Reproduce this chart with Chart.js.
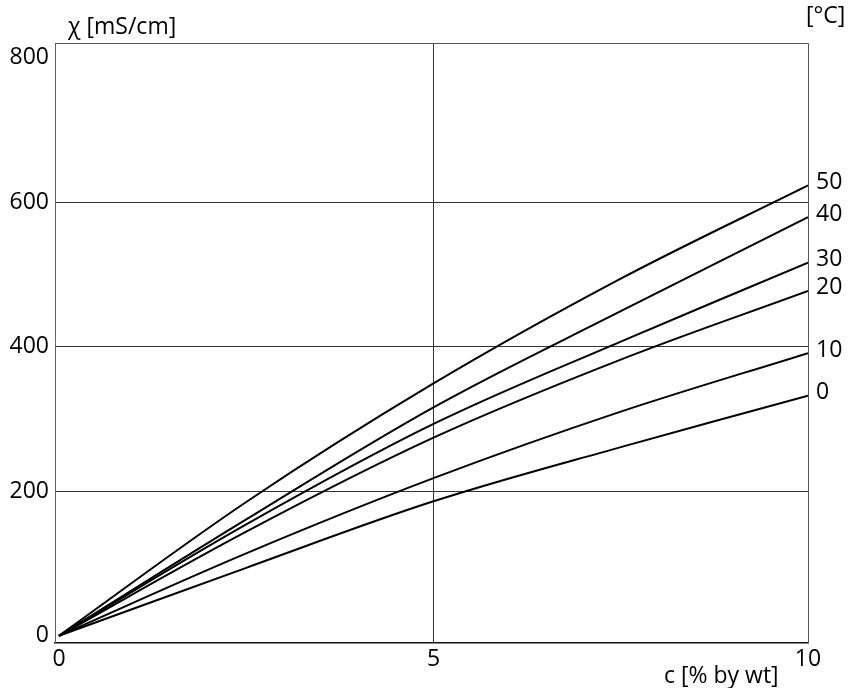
<!DOCTYPE html>
<html>
<head>
<meta charset="utf-8">
<script src="https://cdn.jsdelivr.net/npm/chart.js@4.4.1/dist/chart.umd.min.js"></script>
<style>
  body { margin: 0; background: #fff; }
  canvas { display: block; }
</style>
</head>
<body>
<canvas id="grafico" width="849" height="688"></canvas>
<script>
// concentración en % por peso (eje x)
const concentracion = [0, 2.5, 5, 7.5, 10];
// etiquetas de temperatura [°C] para cada curva
const temperaturas = ['0', '10', '20', '30', '40', '50'];
// conductividad en mS/cm para cada temperatura
const t0 = [0, 94, 186, 261, 332];
const t10 = [0, 114, 218, 310, 391];
const t20 = [0, 144, 274, 382, 477];
const t30 = [0, 154, 293, 407, 516];
const t40 = [0, 161, 316, 449, 579];
const t50 = [0, 185, 349, 494, 623];
const series = [t0, t10, t20, t30, t40, t50];
// marcas de los ejes
const ticksX = [0, 5, 10];
const ticksY = [0, 200, 400, 600, 800];
const lineasX = [5];
const lineasY = [200, 400, 600];

const fuente = '"Open Sans", "Noto Sans", sans-serif';

const textos = {
    id: 'textos',
    afterDraw(chart) {
        const ctx = chart.ctx;
        const area = chart.chartArea;
        ctx.save();
        // marco superior y derecho
        ctx.strokeStyle = '#555';
        ctx.lineWidth = 1;
        ctx.beginPath();
        ctx.moveTo(area.left, area.top + 0.5);
        ctx.lineTo(area.right + 0.5, area.top + 0.5);
        ctx.lineTo(area.right + 0.5, area.bottom);
        ctx.stroke();

        ctx.fillStyle = '#000';
        ctx.font = '23px ' + fuente;
        ctx.textBaseline = 'middle';
        ctx.textAlign = 'left';
        ctx.fillText('χ [mS/cm]', 68, 27);
        ctx.fillText('[°C]', 806, 16);
        ctx.fillText('c [% by wt]', 664, 676);

        // etiquetas al final de cada curva
        series.forEach(function(s, i) {
            const meta = chart.getDatasetMeta(i);
            const ultimo = meta.data[meta.data.length - 1];
            ctx.fillText(temperaturas[i], area.right + 8, ultimo.y - 3);
        });
        ctx.restore();
    }
};

new Chart(document.getElementById('grafico'), {
    type: 'line',
    data: {
        datasets: series.map(function(s, i) {
            return {
                label: temperaturas[i],
                data: concentracion.map((c, j) => ({ x: c, y: s[j] })),
                borderColor: '#000',
                borderWidth: 2,
                pointRadius: 0,
                fill: false,
                tension: 0.35
            };
        })
    },
    options: {
        responsive: false,
        animation: false,
        layout: { padding: { top: 43, right: 41, left: 0, bottom: 0 } },
        plugins: { legend: { display: false }, tooltip: { enabled: false } },
        scales: {
            x: {
                type: 'linear',
                min: -0.053,
                max: 10,
                afterBuildTicks: s => { s.ticks = ticksX.map(v => ({ value: v })); },
                afterFit: s => { s.height = 45; },
                grid: {
                    drawTicks: false,
                    color: c => (c.tick && lineasX.includes(c.tick.value)) ? '#333' : 'rgba(0,0,0,0)'
                },
                border: { color: '#111', width: 1.5 },
                ticks: {
                    color: '#000',
                    font: { family: fuente, size: 23 },
                    padding: 3,
                    maxRotation: 0,
                    autoSkip: false
                }
            },
            y: {
                min: -10,
                max: 820,
                afterBuildTicks: s => { s.ticks = ticksY.map(v => ({ value: v })); },
                afterFit: s => { s.width = 55; },
                grid: {
                    drawTicks: false,
                    color: c => (c.tick && lineasY.includes(c.tick.value)) ? '#333' : 'rgba(0,0,0,0)'
                },
                border: { color: '#666', width: 1 },
                ticks: {
                    color: '#000',
                    font: { family: fuente, size: 23 },
                    padding: 6
                }
            }
        }
    },
    plugins: [textos]
});
</script>
</body>
</html>
